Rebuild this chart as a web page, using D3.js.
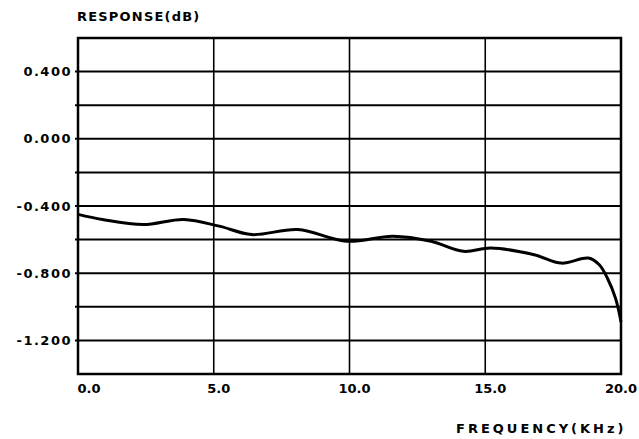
<!DOCTYPE html>
<html>
<head>
<meta charset="utf-8">
<script src="https://cdn.jsdelivr.net/npm/d3@7"></script>
<style>
  body { margin: 0; background: #fff; }
  text { font-family: "DejaVu Sans", sans-serif; font-weight: bold; fill: #000; }
</style>
</head>
<body>
<div class="svg-container"></div>
<script>
//frequency (kHz) and response (dB)
var freq = [0, 0.9, 2.4, 3.9, 5.2, 6.4, 8.1, 9.9, 11.6, 13.0, 14.2, 15.2, 16.8, 17.8, 18.8, 19.2, 19.5, 19.8, 20.0];
var response = [-0.45, -0.48, -0.51, -0.48, -0.52, -0.57, -0.54, -0.61, -0.58, -0.61, -0.67, -0.65, -0.69, -0.74, -0.71, -0.75, -0.83, -0.95, -1.09];

var xTicks = [0, 5, 10, 15, 20];
var xTickLabels = ["0.0", "5.0", "10.0", "15.0", "20.0"];
var yGrid = [0.4, 0.2, 0, -0.2, -0.4, -0.6, -0.8, -1.0, -1.2];
var yTicks = [0.4, 0, -0.4, -0.8, -1.2];
var yTickLabels = ["0.400", "0.000", "-0.400", "-0.800", "-1.200"];

var margin = { top: 38, right: 18, bottom: 65, left: 78 };
var drawWidth = 639, drawHeight = 439;
var width = drawWidth - margin.left - margin.right;
var height = drawHeight - margin.top - margin.bottom;

var svg = d3.select(".svg-container").append("svg")
  .attr("width", drawWidth)
  .attr("height", drawHeight);

var g = svg.append("g").attr("transform", "translate(" + margin.left + "," + margin.top + ")");

var x = d3.scaleLinear().domain([0, 20]).range([0, width]);
var y = d3.scaleLinear().domain([-1.4, 0.6]).range([height, 0]);

// horizontal grid, with a short tick poking out on the left
g.selectAll(".hgrid").data(yGrid).enter().append("line")
  .attr("x1", -3).attr("x2", width)
  .attr("y1", function(d) { return y(d); })
  .attr("y2", function(d) { return y(d); })
  .attr("stroke", "#000").attr("stroke-width", 2);

// vertical grid
g.selectAll(".vgrid").data(xTicks.slice(1, -1)).enter().append("line")
  .attr("x1", function(d) { return x(d); })
  .attr("x2", function(d) { return x(d); })
  .attr("y1", 0).attr("y2", height)
  .attr("stroke", "#000").attr("stroke-width", 1.6);

// frame
g.append("rect")
  .attr("width", width).attr("height", height)
  .attr("fill", "none").attr("stroke", "#000").attr("stroke-width", 2.5);

// y labels
g.selectAll(".ylab").data(yTicks).enter().append("text")
  .attr("x", -6)
  .attr("y", function(d) { return y(d); })
  .attr("dy", "0.36em")
  .attr("text-anchor", "end")
  .style("font-size", "13px")
  .style("letter-spacing", "1.5px")
  .text(function(d, i) { return yTickLabels[i]; });

// x labels (last one kept inside the page)
g.selectAll(".xlab").data(xTicks).enter().append("text")
  .attr("x", function(d) { return d === 20 ? x(d) + 16 : x(d) + (d === 0 ? 11 : 5); })
  .attr("y", height + 19)
  .attr("text-anchor", function(d) { return d === 20 ? "end" : "middle"; })
  .style("font-size", "13px")
  .text(function(d, i) { return xTickLabels[i]; });

var lineData = freq.map(function(f, i) { return { x: f, y: response[i] }; });
var lineFunction = d3.line()
  .x(function(d) { return x(d.x); })
  .y(function(d) { return y(d.y); })
  .curve(d3.curveCatmullRom.alpha(0.5));

g.append("path")
  .attr("d", lineFunction(lineData))
  .attr("fill", "none")
  .attr("stroke", "#000")
  .attr("stroke-width", 3);

// axis titles
svg.append("text")
  .attr("x", 77).attr("y", 21)
  .style("font-size", "13px")
  .style("letter-spacing", "1.2px")
  .text("RESPONSE(dB)");

svg.append("text")
  .attr("x", 456).attr("y", 433)
  .style("font-size", "13px")
  .style("letter-spacing", "3px")
  .text("FREQUENCY(KHz)");
</script>
</body>
</html>
